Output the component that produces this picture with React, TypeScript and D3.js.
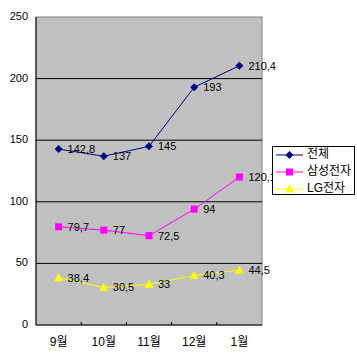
import React from "react";
import * as d3 from "d3";

const categories = ["9월", "10월", "11월", "12월", "1월"];
const totalValues = [142.8, 137, 145, 193, 210.4];
const samsungValues = [79.7, 77, 72.5, 94, 120.1];
const lgValues = [38.4, 30.5, 33, 40.3, 44.5];
const yTicks = [0, 50, 100, 150, 200, 250];
const seriesNames = ["전체", "삼성전자", "LG전자"];

const W = 357, H = 353;
const L = 36, R = 262, T = 17, B = 325;
const FONT = "'Liberation Sans', 'Noto Sans CJK KR', sans-serif";

const fmt = (v: number) => String(v).replace(".", ",");

function Marker({ type, x, y, color }: { type: string; x: number; y: number; color: string }) {
  if (type === "diamond") {
    return <path d={`M${x},${y - 4}L${x + 4},${y}L${x},${y + 4}L${x - 4},${y}Z`} fill={color} />;
  }
  if (type === "square") {
    return <rect x={x - 3.5} y={y - 3.5} width={7} height={7} fill={color} />;
  }
  return <path d={`M${x},${y - 4.5}L${x + 4.5},${y + 3.5}L${x - 4.5},${y + 3.5}Z`} fill={color} />;
}

export default function App() {
  const x = d3.scaleBand<string>().domain(categories).range([L, R]);
  const y = d3.scaleLinear().domain([0, 250]).range([B, T]);
  const cx = (c: string) => (x(c) as number) + x.bandwidth() / 2;

  const series = [
    { name: seriesNames[0], values: totalValues, color: "#000080", marker: "diamond" },
    { name: seriesNames[1], values: samsungValues, color: "#FF00FF", marker: "square" },
    { name: seriesNames[2], values: lgValues, color: "#FFFF00", marker: "triangle" },
  ];

  const line = d3
    .line<number>()
    .x((_, i) => cx(categories[i]))
    .y((d) => y(d));

  return (
    <svg width={W} height={H} style={{ position: "absolute", left: 0, top: 0, background: "#fff" }} fontFamily={FONT}>
      <rect x={L} y={T} width={R - L} height={B - T} fill="#C0C0C0" stroke="#808080" strokeWidth={1} />
      {yTicks.slice(1, -1).map((t) => (
        <line key={t} x1={L} x2={R} y1={y(t)} y2={y(t)} stroke="#000" strokeWidth={1} />
      ))}
      <line x1={L} x2={L} y1={T} y2={B} stroke="#000" />
      <line x1={L} x2={R} y1={B} y2={B} stroke="#000" />
      {yTicks.map((t) => (
        <text key={t} x={28} y={y(t)} textAnchor="end" dominantBaseline="middle" fontSize={11}>
          {t}
        </text>
      ))}
      {categories.slice(1).map((c) => (
        <line key={c} x1={x(c) as number} x2={x(c) as number} y1={B - 3} y2={B} stroke="#000" />
      ))}
      {categories.map((c) => (
        <text key={c} x={cx(c)} y={343} textAnchor="middle" dominantBaseline="middle" fontSize={12}>
          {c}
        </text>
      ))}
      {series.map((s) => (
        <g key={s.name}>
          <path d={line(s.values) as string} fill="none" stroke={s.color} strokeWidth={1} />
          {s.values.map((v, i) => (
            <Marker key={i} type={s.marker} x={cx(categories[i])} y={y(v)} color={s.color} />
          ))}
          {s.values.map((v, i) => (
            <text key={"t" + i} x={cx(categories[i]) + 9} y={y(v) + 1} dominantBaseline="middle" fontSize={11}>
              {fmt(v)}
            </text>
          ))}
        </g>
      ))}
      <rect x={272.5} y={146.5} width={82} height={48} fill="#fff" stroke="#000" />
      {series.map((s, i) => {
        const ly = 155 + i * 17;
        return (
          <g key={s.name}>
            <line x1={276} x2={303} y1={ly} y2={ly} stroke={s.color} />
            <Marker type={s.marker} x={289.5} y={ly} color={s.color} />
            <text x={307} y={ly} dominantBaseline="middle" fontSize={12}>
              {s.name}
            </text>
          </g>
        );
      })}
    </svg>
  );
}
